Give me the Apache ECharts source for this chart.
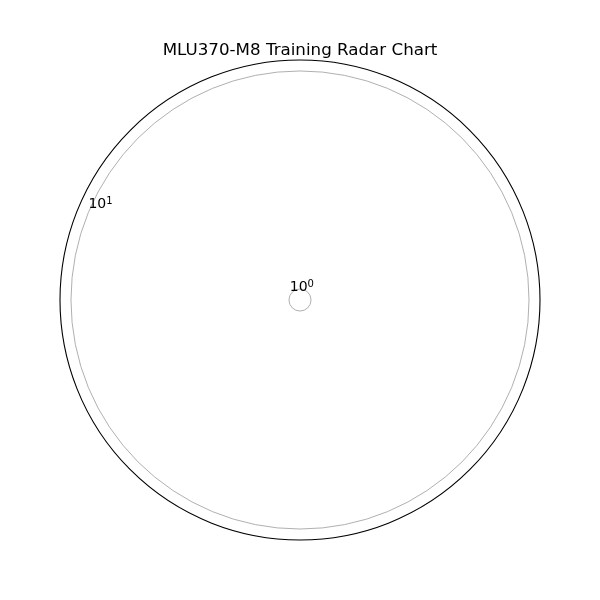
<!DOCTYPE html>
<html>
<head>
<meta charset="utf-8">
<script src="https://cdn.jsdelivr.net/npm/echarts@6/dist/echarts.min.js"></script>
<style>html,body{margin:0;padding:0;background:#fff}#c{width:600px;height:600px}</style>
</head>
<body>
<div id="c"></div>
<script>
// Data (the reference shows no plotted series: categories and values are empty)
const chartTitle = 'MLU370-M8 Training Radar Chart';
const categories = [];
const seriesValues = [];
const radialMin = 0.89;
const radialMax = 11.23;
const radialTickExponents = [0, 1];

const chart = echarts.init(document.getElementById('c'));
const FONT = 'DejaVu Sans';
const gridColors = ['rgba(0,0,0,0)', '#b0b0b0', '#b0b0b0', 'rgba(0,0,0,0)'];

chart.setOption({
  animation: false,
  backgroundColor: '#ffffff',
  title: {
    text: chartTitle,
    left: 'center',
    top: 37,
    textStyle: { fontFamily: FONT, fontSize: 16.7, fontWeight: 'normal', color: '#000' }
  },
  polar: { center: [300, 300], radius: 240 },
  angleAxis: {
    type: 'value',
    min: 0,
    max: 360,
    startAngle: 157.5,
    clockwise: false,
    axisLine: { show: true, lineStyle: { color: '#000', width: 1.1 } },
    axisTick: { show: false },
    axisLabel: { show: false },
    splitLine: { show: false },
    z: 5
  },
  radiusAxis: {
    type: 'log',
    logBase: 10,
    min: radialMin,
    max: radialMax,
    axisLine: { show: false },
    axisTick: { show: false },
    splitLine: { show: true, lineStyle: { color: gridColors, width: 1 } },
    axisLabel: {
      show: true,
      margin: 0,
      align: 'left',
      verticalAlign: 'bottom',
      fontFamily: FONT,
      fontSize: 14,
      color: '#000',
      formatter: function (v) {
        const e = Math.log10(v);
        const r = Math.round(e);
        if (Math.abs(e - r) > 1e-6 || radialTickExponents.indexOf(r) < 0) return '';
        return '10{sup|' + r + '}';
      },
      rich: {
        sup: { fontFamily: FONT, fontSize: 10, color: '#000', verticalAlign: 'top', padding: [0, 0, 6, 0] }
      }
    }
  },
  series: [{
    type: 'line',
    coordinateSystem: 'polar',
    data: categories.map((c, i) => [seriesValues[i], i * 360 / Math.max(categories.length, 1)]),
    showSymbol: false
  }]
});
</script>
</body>
</html>
